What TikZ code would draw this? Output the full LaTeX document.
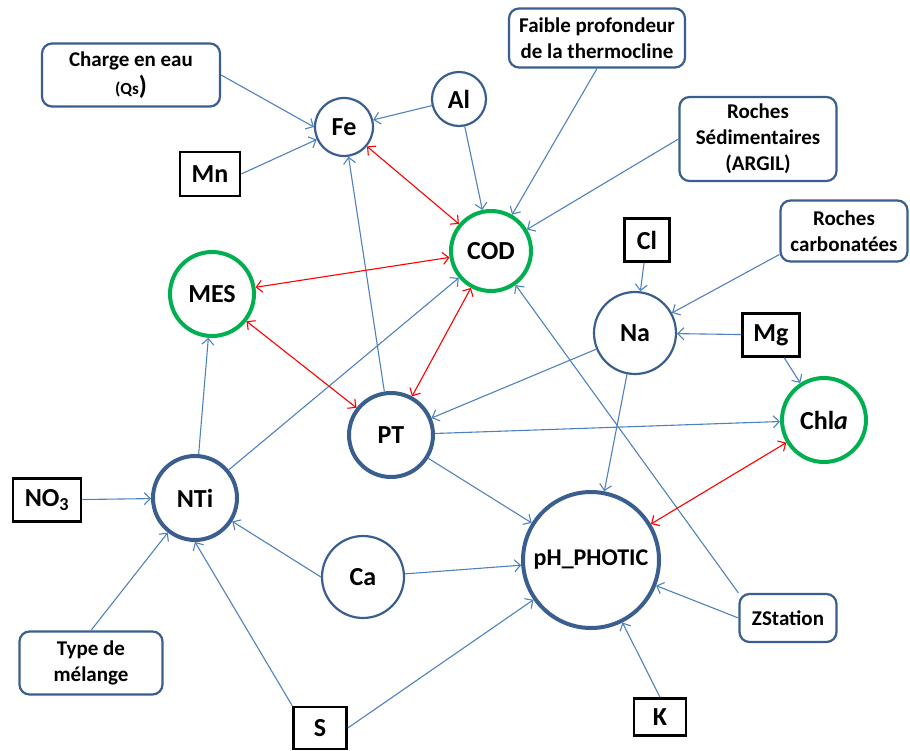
\documentclass[tikz,border=0pt]{standalone}
\usepackage{fontspec}
\setmainfont{Carlito}
\usetikzlibrary{arrows.meta}
\definecolor{lblue}{HTML}{4F81BD}
\definecolor{dblue}{HTML}{3A5F8F}
\definecolor{ggreen}{HTML}{00B050}
\definecolor{rred}{HTML}{FF0000}
\begin{document}
\begin{tikzpicture}[x=1pt,y=-1pt,
  circthin/.style={circle,draw=dblue,line width=2.2pt,inner sep=0pt,minimum size=#1,fill=white,
    font=\bfseries\fontsize{26}{30}\selectfont},
  circthick/.style={circle,draw=dblue,line width=4pt,inner sep=0pt,minimum size=#1,fill=white,
    font=\bfseries\fontsize{26}{30}\selectfont},
  circgreen/.style={circle,draw=ggreen,line width=4pt,inner sep=0pt,minimum size=#1,fill=white,
    font=\bfseries\fontsize{26}{30}\selectfont},
  elbox/.style={rectangle,draw=black,line width=2.5pt,inner sep=0pt,fill=white,
    font=\bfseries\fontsize{26}{30}\selectfont},
  rbox/.style={rectangle,rounded corners=10pt,draw=dblue,line width=2.2pt,inner sep=0pt,fill=white,
    align=center,font=\bfseries\fontsize{21}{26}\selectfont},
  arr/.style={draw=lblue,line width=1.1pt,-{Straight Barb[length=6pt,width=12pt]}},
  rarr/.style={draw=rred,line width=1.1pt,{Straight Barb[length=6pt,width=12pt]}-{Straight Barb[length=6pt,width=12pt]}}
]
\useasboundingbox (0,0) rectangle (910,751);

% circles
\node[circthin=58pt] (fe) at (344,127) {Fe};
\node[circthin=54pt] (al) at (459,99) {Al};
\node[circgreen=80pt] (cod) at (491,251) {COD};
\node[circgreen=84pt] (mes) at (212,294) {MES};
\node[circthin=82pt] (na) at (635,333) {Na};
\node[circgreen=84pt] (chla) at (824,420) {Chl\textit{a}};
\node[circthick=84pt] (pt) at (391,435) {PT};
\node[circthick=84pt] (nti) at (195,498) {NTi};
\node[circthin=82pt] (ca) at (363,577) {Ca};
\node[circthick=136pt,font=\bfseries\fontsize{24}{28}\selectfont] (ph) at (591,560) {pH\_PHOTIC};

% element boxes
\node[elbox,minimum width=60pt,minimum height=44pt] (mn) at (210,174) {Mn};
\node[elbox,minimum width=45pt,minimum height=43pt] (cl) at (647,240) {Cl};
\node[elbox,minimum width=57pt,minimum height=43pt] (mg) at (771,335) {Mg};
\node[elbox,minimum width=68pt,minimum height=43pt] (no3) at (47,500) {NO$_{\mathbf 3}$};
\node[elbox,minimum width=53pt,minimum height=42pt] (s) at (320,728) {S};
\node[elbox,minimum width=52pt,minimum height=37pt] (k) at (660,717) {K};

% rounded boxes
\node[rbox,minimum width=178pt,minimum height=63pt] (charge) at (131,75)
  {Charge en eau\\[2pt]{\fontsize{17}{20}\selectfont(Qs}{\fontsize{26}{20}\selectfont)}};
\node[rbox,minimum width=176pt,minimum height=59pt] (faible) at (597,38)
  {Faible profondeur\\de la thermocline};
\node[rbox,minimum width=157pt,minimum height=84pt] (rsed) at (758,139)
  {Roches\\Sédimentaires\\(ARGIL)};
\node[rbox,minimum width=127pt,minimum height=61pt] (rcarb) at (844,231)
  {Roches\\carbonatées};
\node[rbox,minimum width=143pt,minimum height=63pt] (type) at (91,663)
  {Type de\\mélange};
\node[rbox,minimum width=97pt,minimum height=48pt] (zst) at (788,618)
  {ZStation};

% blue arrows
\draw[arr] (charge.east) -- (fe.west);
\draw[arr] (mn.east) -- (fe);
\draw[arr] (al) -- (fe);
\draw[arr] (al) -- (cod);
\draw[arr] (faible.south) -- (cod);
\draw[arr] (rsed.west) -- (cod);
\draw[arr] (pt) -- (fe);
\draw[arr] (nti) -- (mes);
\draw[arr] (nti) -- (cod);
\draw[arr] (cl) -- (na);
\draw[arr] (rcarb.200) -- (na);
\draw[arr] (mg) -- (na);
\draw[arr] (mg.-60) -- (chla);
\draw[arr] (na) -- (pt);
\draw[arr] (na) -- (ph);
\draw[arr] (pt) -- (chla);
\draw[arr] (pt) -- (ph);
\draw[arr] (zst.north west) -- (cod);
\draw[arr] (zst.west) -- (ph);
\draw[arr] (k.north) -- (ph);
\draw[arr] (no3) -- (nti);
\draw[arr] (type.north) -- (nti);
\draw[arr] (s.north west) -- (nti.south);
\draw[arr] (s.east) -- (ph);
\draw[arr] (ca.west) -- (nti);
\draw[arr] (ca) -- (ph);

% red double arrows
\draw[rarr] (fe) -- (cod);
\draw[rarr] (mes) -- (cod);
\draw[rarr] (mes) -- (pt);
\draw[rarr] (cod) -- (pt);
\draw[rarr] (chla) -- (ph);
\end{tikzpicture}
\end{document}
